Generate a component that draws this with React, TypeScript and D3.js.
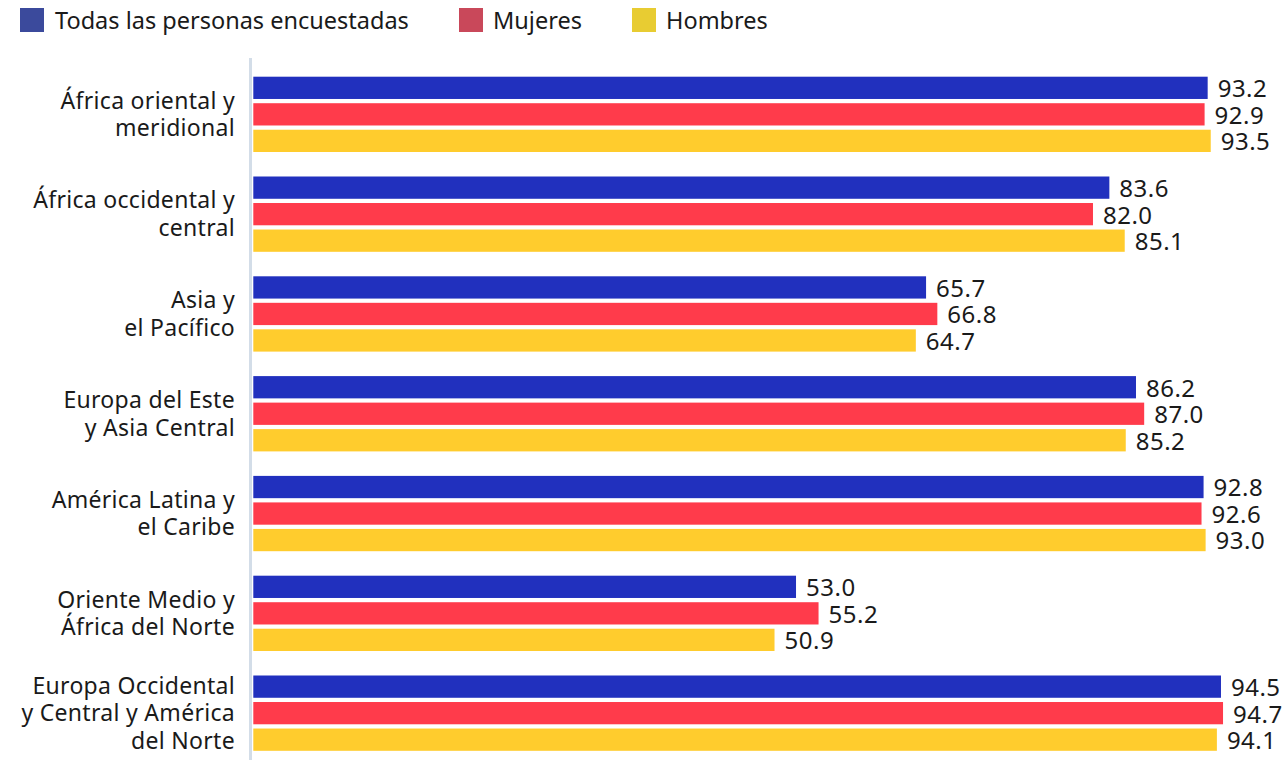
import React from "react";
import * as d3 from "d3";

const categories = [
  "África oriental y\nmeridional",
  "África occidental y\ncentral",
  "Asia y\nel Pacífico",
  "Europa del Este\ny Asia Central",
  "América Latina y\nel Caribe",
  "Oriente Medio y\nÁfrica del Norte",
  "Europa Occidental\ny Central y América\ndel Norte",
];
const seriesNames = ["Todas las personas encuestadas", "Mujeres", "Hombres"];
const todas = [93.2, 83.6, 65.7, 86.2, 92.8, 53.0, 94.5];
const mujeres = [92.9, 82.0, 66.8, 87.0, 92.6, 55.2, 94.7];
const hombres = [93.5, 85.1, 64.7, 85.2, 93.0, 50.9, 94.1];
const seriesValues = [todas, mujeres, hombres];

const barColors = ["#2130be", "#ff3b4b", "#ffcc2d"];
const legendColors = ["#3b4a9c", "#c9485a", "#e8cc32"];
const FONT = "'Noto Sans', 'Open Sans', sans-serif";

export default function App() {
  const W = 1288, H = 760;
  const x = d3.scaleLinear().domain([0, 100]).range([253.3, 253.3 + 1024]);
  const y0 = d3.scaleBand<string>().domain(categories).range([76.7, 76.7 + 7 * 99.8]).paddingInner(0).paddingOuter(0);
  const y1 = d3.scaleBand<string>().domain(seriesNames).range([0, 75.3]).paddingInner(0.16).paddingOuter(0);

  const legendItems = [
    { sq: 20, tx: 55 },
    { sq: 459, tx: 493 },
    { sq: 632, tx: 666 },
  ];

  return (
    <svg width={W} height={H} style={{ position: "absolute", left: 0, top: 0 }} fontFamily={FONT}>
      <rect width={W} height={H} fill="#ffffff" />
      {seriesNames.map((s, i) => (
        <g key={s}>
          <rect x={legendItems[i].sq} y={8} width={24} height={24} fill={legendColors[i]} />
          <text x={legendItems[i].tx} y={21} dy="0.35em" fontSize={23.5} fill="#1a1a1a">{s}</text>
        </g>
      ))}
      <line x1={250.5} x2={250.5} y1={58} y2={H} stroke="#d3dde8" strokeWidth={3} />
      {categories.map((c, ci) => {
        const gy = y0(c)!;
        const lines = c.split("\n");
        const center = gy + 75.3 / 2;
        const lh = 27.7;
        return (
          <g key={c}>
            <text x={235} textAnchor="end" fontSize={23} letterSpacing={0.3} fill="#1a1a1a">
              {lines.map((l, li) => (
                <tspan key={li} x={235} y={center + (li - (lines.length - 1) / 2) * lh} dy="0.35em">{l}</tspan>
              ))}
            </text>
            {seriesNames.map((s, si) => {
              const v = seriesValues[si][ci];
              const by = gy + y1(s)!;
              return (
                <g key={s}>
                  <rect x={x(0)} y={by} width={x(v) - x(0)} height={y1.bandwidth()} fill={barColors[si]} />
                  <text x={x(v) + 10} y={by + y1.bandwidth() / 2 + 1} dy="0.35em" fontSize={24} letterSpacing={0.5} fill="#1a1a1a">{v.toFixed(1)}</text>
                </g>
              );
            })}
          </g>
        );
      })}
    </svg>
  );
}
